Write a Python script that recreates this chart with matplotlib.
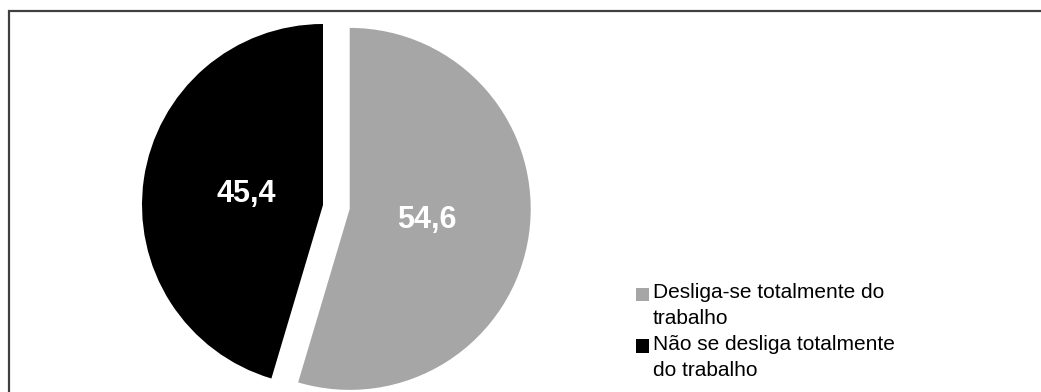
import matplotlib
matplotlib.use('Agg')
import matplotlib.pyplot as plt
from matplotlib.patches import Rectangle, Patch
from matplotlib.legend_handler import HandlerPatch

plt.rcParams['font.family'] = ['Liberation Sans', 'DejaVu Sans']

# Data
categories = ['Desliga-se totalmente do\ntrabalho', 'Não se desliga totalmente\ndo trabalho']
values = [54.6, 45.4]
colors = ['#a6a6a6', '#000000']

fig = plt.figure(figsize=(10.41, 3.92), dpi=100)
ax = fig.add_axes([0, 0, 1, 1])

wedges, texts, autotexts = ax.pie(
    values, colors=colors, startangle=90, counterclock=False,
    center=(323, 187), radius=181, explode=[27, 0],
    autopct=lambda p: f'{p:.1f}'.replace('.', ','), pctdistance=0.43,
    wedgeprops=dict(linewidth=0), frame=True)
ax.set_xlim(0, 1041)
ax.set_ylim(0, 392)
ax.set_aspect('equal')
ax.axis('off')

for t in autotexts:
    t.set_color('white')
    t.set_fontweight('bold')
    t.set_fontsize(22)

# outer frame (only top and left visible in the crop)
fig.patches.append(Rectangle((9 / 1041, -0.1), 1.2, 1 - 11 / 392 + 0.1,
                             transform=fig.transFigure, fill=False,
                             edgecolor='#404040', linewidth=1.6))


# square marker level with the first text line
def top_square(legend, orig_handle, xdescent, ydescent, width, height, fontsize):
    return Rectangle((-xdescent, -ydescent + fontsize * 0.55), width, height)


handles = [Patch(facecolor=c, edgecolor='none') for c in colors]
leg = fig.legend(handles, categories, loc='upper left',
                 bbox_to_anchor=(636 / 1041, 1 - 283 / 392), frameon=False,
                 fontsize=15, handlelength=0.62, handleheight=0.62,
                 handletextpad=0.2, labelspacing=0.3, borderpad=0,
                 borderaxespad=0,
                 handler_map={Patch: HandlerPatch(patch_func=top_square)})
for t in leg.get_texts():
    t.set_linespacing(1.5)

plt.savefig('out.png', dpi=100)
